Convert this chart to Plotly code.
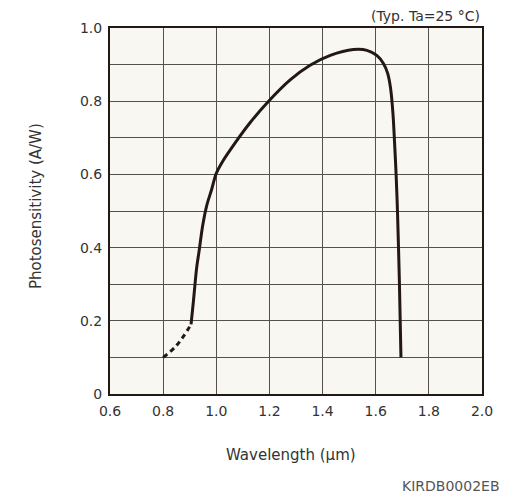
import plotly.graph_objects as go

# Data
dashed_x = [0.80, 0.851, 0.905]
dashed_y = [0.10, 0.133, 0.19]
solid_x = [0.905, 0.914, 0.926, 0.935, 0.949, 0.964, 0.983, 0.999, 1.021, 1.071, 1.127,
           1.196, 1.278, 1.353, 1.429, 1.516, 1.567, 1.604, 1.629, 1.645, 1.656, 1.665,
           1.671, 1.677, 1.682, 1.689, 1.695]
solid_y = [0.19, 0.254, 0.344, 0.389, 0.461, 0.515, 0.560, 0.601, 0.632, 0.686, 0.741,
           0.799, 0.858, 0.898, 0.925, 0.941, 0.939, 0.925, 0.903, 0.876, 0.835, 0.765,
           0.686, 0.596, 0.497, 0.31, 0.10]
x_ticks = [0.6, 0.8, 1.0, 1.2, 1.4, 1.6, 1.8, 2.0]
x_ticklabels = ["0.6", "0.8", "1.0", "1.2", "1.4", "1.6", "1.8", "2.0"]
y_ticks = [0, 0.2, 0.4, 0.6, 0.8, 1.0]
y_ticklabels = ["0", "0.2", "0.4", "0.6", "0.8", "1.0"]

FONT = "Verdana, DejaVu Sans, sans-serif"
LINE = "#231815"
GRID = "#55504c"
TXT = "#333333"

fig = go.Figure()
fig.add_trace(go.Scatter(x=dashed_x, y=dashed_y, mode="lines",
                         line=dict(color=LINE, width=3, dash="5px,4px", shape="spline"),
                         hoverinfo="skip", showlegend=False))
fig.add_trace(go.Scatter(x=solid_x, y=solid_y, mode="lines",
                         line=dict(color=LINE, width=3, shape="spline", smoothing=0.8),
                         hoverinfo="skip", showlegend=False))

fig.update_layout(
    width=524, height=490,
    margin=dict(l=102, r=50, t=16, b=104),
    paper_bgcolor="white", plot_bgcolor="#f8f7f2",
    font=dict(family=FONT, size=14, color=TXT),
    xaxis=dict(range=[0.6, 2.0], tickvals=x_ticks, ticktext=x_ticklabels,
               showgrid=True, gridcolor=GRID, gridwidth=1,
               showline=True, linecolor=LINE, linewidth=2, mirror=True,
               ticks="", zeroline=False, fixedrange=True, ticklabelstandoff=3),
    yaxis=dict(range=[0, 1.0], tickvals=y_ticks, ticktext=y_ticklabels,
               showgrid=True, gridcolor=GRID, gridwidth=1,
               minor=dict(dtick=0.1, tick0=0, showgrid=True, gridcolor=GRID, gridwidth=1),
               showline=True, linecolor=LINE, linewidth=2, mirror=True,
               ticks="", zeroline=False, fixedrange=True, ticklabelstandoff=3),
    annotations=[
        dict(text="Photosensitivity (A/W)", xref="paper", yref="paper",
             x=-0.199, y=0.5135, textangle=-90, showarrow=False,
             xanchor="center", yanchor="middle",
             font=dict(size=15, color=TXT)),
        dict(text="Wavelength (μm)", xref="paper", yref="paper",
             x=0.4866, y=-0.1676, xanchor="center", yanchor="middle", showarrow=False,
             font=dict(size=15, color=TXT)),
        dict(text="(Typ. Ta=25 °C)", xref="paper", yref="paper",
             x=1.0, y=1.0324, xanchor="right", yanchor="middle", showarrow=False,
             font=dict(size=14, color=TXT)),
        dict(text="KIRDB0002EB", xref="paper", yref="paper",
             x=1.0538, y=-0.2514, xanchor="right", yanchor="middle", showarrow=False,
             font=dict(size=14, color="#555555")),
    ],
)

fig.write_html("out.html")
